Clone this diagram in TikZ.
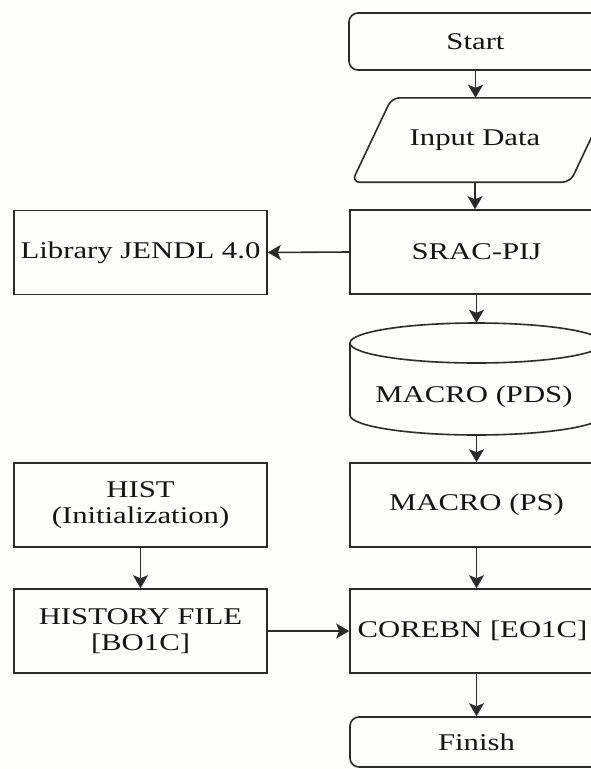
\documentclass[tikz,border=0pt]{standalone}
\usepackage{fontspec}
\setmainfont{Liberation Serif}[FakeStretch=1.28]
\usetikzlibrary{arrows.meta}
\definecolor{bg}{HTML}{FDFDF9}
\definecolor{ln}{HTML}{2B2B2B}
\definecolor{tx}{HTML}{151515}
\begin{document}
\begin{tikzpicture}[x=1pt,y=-1pt,
  txt/.style={inner sep=0pt, align=center, text=tx, font=\fontsize{24}{26}\selectfont},
  box/.style={txt, draw=ln, line width=1.6pt, minimum width=253pt, minimum height=84pt},
  term/.style={box, rounded corners=9pt},
  ghost/.style={txt, minimum width=218pt, minimum height=84pt},
  shapeline/.style={draw=ln, line width=1.6pt},
  arr/.style={draw=ln, line width=1.6pt, -{Stealth[length=13pt,width=15pt,inset=3pt]}}]
\path[use as bounding box, fill=bg] (0,0) rectangle (591,769);
\clip (0,0) rectangle (591,769);

% right column
\node[term, minimum height=57pt] (start) at (475.5,41.5) {Start};
\node[ghost] (input) at (475,140) {\raisebox{-2pt}{Input Data}};
\draw[shapeline, rounded corners=8pt]
  ([xshift=-14pt]input.south west) -- ([xshift=26pt]input.north west) --
  ([xshift=26pt]input.north east) -- ([xshift=-14pt]input.south east) -- cycle;
\node[box] (srac) at (476.5,252) {SRAC-PIJ};
\node[txt, minimum width=253pt, minimum height=112pt] (pds) at (476.5,379) {};
\draw[shapeline] (476.5,343) ellipse [x radius=126.5pt, y radius=20pt];
\draw[shapeline] (350,343) -- (350,415)
  arc[start angle=180, end angle=360, x radius=126.5pt, y radius=20pt] -- (603,343);
\node[txt] (pdstext) at (474,397) {MACRO (PDS)};
\node[box] (ps) at (476.5,505) {MACRO (PS)};
\node[box] (corebn) at (476.5,631) {\hspace*{-4pt}COREBN [EO1C]\hspace*{4pt}};
\node[term, minimum height=50pt] (finish) at (476.5,742) {Finish};

% left column
\node[box] (lib) at (140.5,252.5) {Library JENDL 4.0};
\node[box] (hist) at (140.5,505) {HIST\\(Initialization)};
\node[box] (hfile) at (140.5,631) {HISTORY FILE\\{[BO1C]}};

% connectors
\draw[arr] (start.south) -- (start.south |- input.north);
\draw[arr] (input.south) -- (input.south |- srac.north);
\draw[arr] (srac.west) -- (lib.east);
\draw[arr] (srac.south) -- (pds.north);
\draw[arr] (pds.south) -- (ps.north);
\draw[arr] (ps.south) -- (corebn.north);
\draw[arr] (hist.south) -- (hfile.north);
\draw[arr] (hfile.east) -- (hfile.east -| corebn.west);
\draw[arr] (corebn.south) -- (finish.north);
\end{tikzpicture}
\end{document}
